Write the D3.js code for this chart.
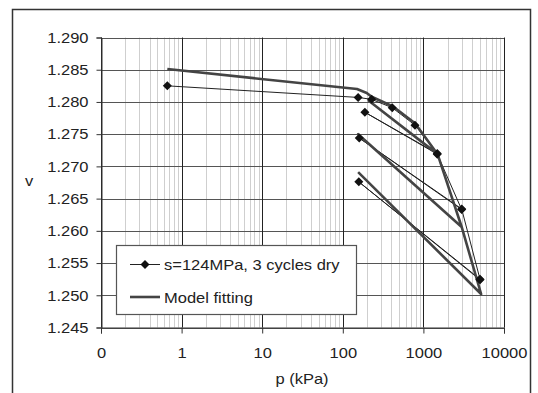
<!DOCTYPE html>
<html>
<head>
<meta charset="utf-8">
<script src="https://cdn.jsdelivr.net/npm/d3@7"></script>
<style>
  html, body { margin: 0; padding: 0; background: #fff; }
  svg { display: block; font-family: "Liberation Sans", Arial, sans-serif; }
</style>
</head>
<body>
<svg id="chart" width="538" height="393"></svg>
<script>
// measured points, p (kPa) / v
const measuredP = [0.665, 155, 228, 411, 787, 1486, 188, 1486, 2985, 160, 2985, 5036, 158, 5036];
const measuredV = [1.2825, 1.2807, 1.2804, 1.2791, 1.2764, 1.2720, 1.2784, 1.2719, 1.2633, 1.2744, 1.2634, 1.2525, 1.2676, 1.2524];

// model fitting curve
const modelP = [0.665, 150, 198, 228, 420, 787, 1500, 210, 1500, 2985, 155, 2985, 5200, 155];
const modelV = [1.2851, 1.2820, 1.2814, 1.2808, 1.2793, 1.2767, 1.2719, 1.2802, 1.2719, 1.2606, 1.2750, 1.2606, 1.2502, 1.2691];

const xTicks = [0.1, 1, 10, 100, 1000, 10000];
const xTickLabels = ["0", "1", "10", "100", "1000", "10000"];
const yTicks = [1.245, 1.25, 1.255, 1.26, 1.265, 1.27, 1.275, 1.28, 1.285, 1.29];

const legendLabels = ["s=124MPa, 3 cycles dry", "Model fitting"];

const svg = d3.select("#chart");
const stretch = 1.1; // the source image text looks a bit wide

function widen(sel) {
  sel.each(function () {
    const w = this.getComputedTextLength();
    d3.select(this).attr("textLength", w * stretch).attr("lengthAdjust", "spacingAndGlyphs");
  });
}

const plot = { left: 101, right: 504, top: 37.5, bottom: 327.5 };

const x = d3.scaleLog().domain([0.1, 10000]).range([plot.left, plot.right]);
const y = d3.scaleLinear().domain([1.245, 1.29]).range([plot.bottom, plot.top]);

// outer frame
svg.append("rect")
  .attr("x", 12.5).attr("y", 9.5)
  .attr("width", 518).attr("height", 420)
  .attr("fill", "none").attr("stroke", "#333").attr("stroke-width", 1.5);

// minor vertical grid
const minor = [];
for (let e = -1; e < 4; e++) {
  for (let k = 2; k <= 9; k++) minor.push(k * Math.pow(10, e));
}
svg.append("g").selectAll("line")
  .data(minor).enter().append("line")
  .attr("x1", d => Math.round(x(d)) + 0.5).attr("x2", d => Math.round(x(d)) + 0.5)
  .attr("y1", plot.top).attr("y2", plot.bottom)
  .attr("stroke", "#cfcfcf").attr("stroke-width", 1);

// horizontal grid
svg.append("g").selectAll("line")
  .data(yTicks).enter().append("line")
  .attr("x1", plot.left).attr("x2", plot.right)
  .attr("y1", d => Math.round(y(d)) + 0.5).attr("y2", d => Math.round(y(d)) + 0.5)
  .attr("stroke", "#555").attr("stroke-width", 1);

// major vertical grid
svg.append("g").selectAll("line")
  .data(xTicks).enter().append("line")
  .attr("x1", d => Math.round(x(d)) + 0.5).attr("x2", d => Math.round(x(d)) + 0.5)
  .attr("y1", plot.top).attr("y2", plot.bottom)
  .attr("stroke", "#222").attr("stroke-width", 1);

// axes
const yAxis = d3.axisLeft(y).tickValues(yTicks).tickSize(5).tickPadding(8)
  .tickFormat(d3.format(".3f"));
const gy = svg.append("g")
  .attr("transform", `translate(${plot.left + 0.5},0)`)
  .call(yAxis);
gy.select(".domain").attr("stroke", "#333");
gy.selectAll(".tick line").attr("stroke", "#333");
gy.selectAll("text").attr("font-size", 15).attr("fill", "#222")
  .attr("font-family", "Liberation Sans, Arial, sans-serif");

const xAxis = d3.axisBottom(x).tickValues(xTicks).tickSize(6).tickPadding(14)
  .tickFormat((d, i) => xTickLabels[i]);
const gx = svg.append("g")
  .attr("transform", `translate(0,${plot.bottom})`)
  .call(xAxis);
gx.select(".domain").attr("stroke", "#333");
gx.selectAll(".tick line").attr("stroke", "#333");
gx.selectAll("text").attr("font-size", 15).attr("fill", "#222")
  .attr("font-family", "Liberation Sans, Arial, sans-serif");

widen(gy.selectAll("text"));
widen(gx.selectAll("text"));

// axis titles
svg.append("text")
  .attr("x", 29).attr("y", 186)
  .attr("text-anchor", "middle").attr("font-size", 15).attr("fill", "#222")
  .text("v").call(widen);
svg.append("text")
  .attr("x", 302).attr("y", 384)
  .attr("text-anchor", "middle").attr("font-size", 15).attr("fill", "#222")
  .text("p (kPa)").call(widen);

const line = d3.line().x(d => x(d[0])).y(d => y(d[1]));

const measured = measuredP.map((p, i) => [p, measuredV[i]]);
const model = modelP.map((p, i) => [p, modelV[i]]);

const diamond = "M0,-4.5L4.5,0L0,4.5L-4.5,0Z";

// measured line + markers
svg.append("path")
  .datum(measured)
  .attr("d", line)
  .attr("fill", "none").attr("stroke", "#222").attr("stroke-width", 1);

// model fitting line
svg.append("path")
  .datum(model)
  .attr("d", line)
  .attr("fill", "none").attr("stroke", "#444").attr("stroke-width", 2.6)
  .attr("stroke-linejoin", "round");

svg.append("g").selectAll("path")
  .data(measured).enter().append("path")
  .attr("transform", d => `translate(${x(d[0])},${y(d[1])})`)
  .attr("d", diamond)
  .attr("fill", "#111");

// legend
const lg = svg.append("g");
lg.append("rect")
  .attr("x", 116.5).attr("y", 245.5).attr("width", 240).attr("height", 69)
  .attr("fill", "#fff").attr("stroke", "#555").attr("stroke-width", 1.2);
lg.append("line")
  .attr("x1", 130).attr("x2", 160).attr("y1", 264.5).attr("y2", 264.5)
  .attr("stroke", "#222").attr("stroke-width", 1);
lg.append("path")
  .attr("transform", "translate(145,264.5)")
  .attr("d", diamond).attr("fill", "#111");
lg.append("line")
  .attr("x1", 130).attr("x2", 160).attr("y1", 297).attr("y2", 297)
  .attr("stroke", "#444").attr("stroke-width", 2.6);
lg.selectAll("text.lbl")
  .data(legendLabels).enter().append("text")
  .attr("class", "lbl")
  .attr("x", 164)
  .attr("y", (d, i) => 270 + i * 33)
  .attr("font-size", 15).attr("fill", "#222")
  .text(d => d)
  .call(widen);
</script>
</body>
</html>
